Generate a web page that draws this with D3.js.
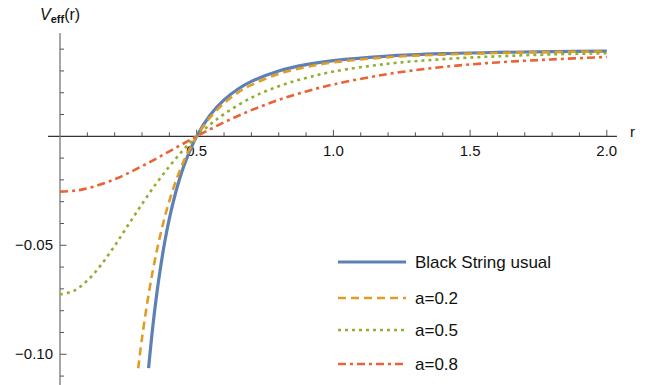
<!DOCTYPE html>
<html>
<head>
<meta charset="utf-8">
<script src="https://cdn.jsdelivr.net/npm/d3@7"></script>
<style>
  html, body { margin: 0; padding: 0; background: #fff; }
  svg { display: block; font-family: "Liberation Sans", Arial, sans-serif; }
</style>
</head>
<body>
<svg id="chart" width="650" height="385"></svg>
<script>
// ---- data ----
const seriesNames = ["Black String usual", "a=0.2", "a=0.5", "a=0.8"];

const rBlack = [0.324,0.34,0.36,0.38,0.40,0.43,0.46,0.50,0.55,0.60,0.65,0.70,0.80,0.90,1.0,1.2,1.4,1.6,1.8,2.0];
const vBlack = [-0.1064,-0.0866,-0.0667,-0.0507,-0.0378,-0.0227,-0.0113,0,0.0099,0.0167,0.0216,0.0252,0.0300,0.0329,0.0347,0.0368,0.0379,0.0385,0.0389,0.0391];

const rA02 = [0.286,0.30,0.32,0.34,0.36,0.38,0.40,0.43,0.46,0.50,0.55,0.60,0.65,0.70,0.80,0.90,1.0,1.2,1.4,1.6,1.8,2.0];
const vA02 = [-0.1064,-0.0926,-0.0757,-0.0613,-0.0491,-0.0386,-0.0296,-0.0184,-0.0094,0,0.0088,0.0152,0.0200,0.0236,0.0286,0.0318,0.0339,0.0363,0.0375,0.0382,0.0387,0.0389];

const rA05 = [0,0.05,0.1,0.15,0.2,0.25,0.3,0.35,0.4,0.45,0.5,0.55,0.6,0.7,0.8,0.9,1.0,1.2,1.4,1.6,1.8,2.0];
const vA05 = [-0.0726,-0.0709,-0.0662,-0.0590,-0.0502,-0.0406,-0.0311,-0.0220,-0.0138,-0.0064,0,0.0055,0.0102,0.0177,0.0230,0.0268,0.0297,0.0333,0.0354,0.0367,0.0376,0.0381];

const rA08 = [0,0.05,0.1,0.2,0.3,0.4,0.5,0.6,0.7,0.8,0.9,1.0,1.2,1.4,1.6,1.8,2.0];
const vA08 = [-0.0254,-0.0250,-0.0239,-0.0197,-0.0137,-0.0069,0,0.0064,0.0120,0.0167,0.0206,0.0238,0.0286,0.0318,0.0339,0.0353,0.0364];

const xMajorTicks = [0.5, 1.0, 1.5, 2.0];
const xMajorLabels = ["0.5", "1.0", "1.5", "2.0"];
const yMajorTicks = [-0.05, -0.10];
const yMajorLabels = ["\u22120.05", "\u22120.10"];

// ---- scales ----
const svg = d3.select("#chart");
const x = d3.scaleLinear().domain([0, 2]).range([60, 606.8]);
const y = d3.scaleLinear().domain([-0.1141, 0.0474]).range([385, 33]);

const axisColor = "#555";

// x-axis line
svg.append("line")
  .attr("x1", x(-0.044)).attr("x2", x(2.037))
  .attr("y1", y(0)).attr("y2", y(0))
  .attr("stroke", "#333").attr("stroke-width", 1.2);
// y-axis line
svg.append("line")
  .attr("x1", x(0)).attr("x2", x(0))
  .attr("y1", y(0.0474)).attr("y2", y(-0.1141))
  .attr("stroke", "#777").attr("stroke-width", 1.3);

// x ticks (minor every 0.1, major every 0.5)
const xMinor = d3.range(1, 21).map(i => i / 10);
svg.selectAll(".xt").data(xMinor).join("line")
  .attr("x1", d => x(d)).attr("x2", d => x(d))
  .attr("y1", y(0))
  .attr("y2", d => y(0) - (Math.abs(d * 2 - Math.round(d * 2)) < 1e-6 ? 6.5 : 4))
  .attr("stroke", axisColor).attr("stroke-width", 1);
svg.selectAll(".xl").data(xMajorTicks).join("text")
  .attr("x", d => x(d)).attr("y", y(0) + 20)
  .attr("text-anchor", "middle").attr("font-size", 15).attr("fill", "#111")
  .text((d, i) => xMajorLabels[i]);

// y ticks (minor every 0.01)
const yMinor = d3.range(-11, 5).filter(i => i !== 0).map(i => i / 100);
svg.selectAll(".yt").data(yMinor).join("line")
  .attr("x1", x(0)).attr("x2", d => x(0) + (Math.abs(d * 20 - Math.round(d * 20)) < 1e-6 ? 6.5 : 4))
  .attr("y1", d => y(d)).attr("y2", d => y(d))
  .attr("stroke", axisColor).attr("stroke-width", 1);
svg.selectAll(".yl").data(yMajorTicks).join("text")
  .attr("x", 53).attr("y", d => y(d) + 5)
  .attr("text-anchor", "end").attr("font-size", 15).attr("fill", "#111")
  .text((d, i) => yMajorLabels[i]);

// axis labels
svg.append("text").attr("x", 630).attr("y", 137)
  .attr("font-size", 15).attr("fill", "#111").text("r");
const yl = svg.append("text").attr("x", 40).attr("y", 20).attr("fill", "#111");
yl.append("tspan").attr("font-size", 16).attr("font-style", "italic").text("V");
yl.append("tspan").attr("font-size", 11).attr("font-weight", "bold").attr("dy", 3).text("eff");
yl.append("tspan").attr("font-size", 16).attr("dy", -3).text("(r)");

// ---- curves ----
const series = [
  { name: seriesNames[0], r: rBlack, v: vBlack, color: "#5E81B5", width: 3.2, dash: null },
  { name: seriesNames[1], r: rA02, v: vA02, color: "#E19C24", width: 2.6, dash: "8,5" },
  { name: seriesNames[2], r: rA05, v: vA05, color: "#8FB032", width: 2.6, dash: "3,4" },
  { name: seriesNames[3], r: rA08, v: vA08, color: "#EB6235", width: 2.6, dash: "8,4,3,4" }
];

const line = d3.line()
  .x(d => x(d[0])).y(d => y(d[1]))
  .curve(d3.curveCatmullRom.alpha(0.5));

series.forEach(s => {
  svg.append("path")
    .datum(s.r.map((r, i) => [r, s.v[i]]))
    .attr("d", line)
    .attr("fill", "none")
    .attr("stroke", s.color)
    .attr("stroke-width", s.width)
    .attr("stroke-dasharray", s.dash)
    .attr("stroke-linecap", "butt");
});

// ---- legend ----
const legendY = [262, 298, 330, 364];
const lg = svg.append("g");
series.forEach((s, i) => {
  lg.append("line")
    .attr("x1", 338).attr("x2", 406)
    .attr("y1", legendY[i]).attr("y2", legendY[i])
    .attr("stroke", s.color).attr("stroke-width", s.width)
    .attr("stroke-dasharray", s.dash);
  lg.append("text")
    .attr("x", 415).attr("y", legendY[i] + 6)
    .attr("font-size", 17).attr("fill", "#111")
    .text(s.name);
});
</script>
</body>
</html>
